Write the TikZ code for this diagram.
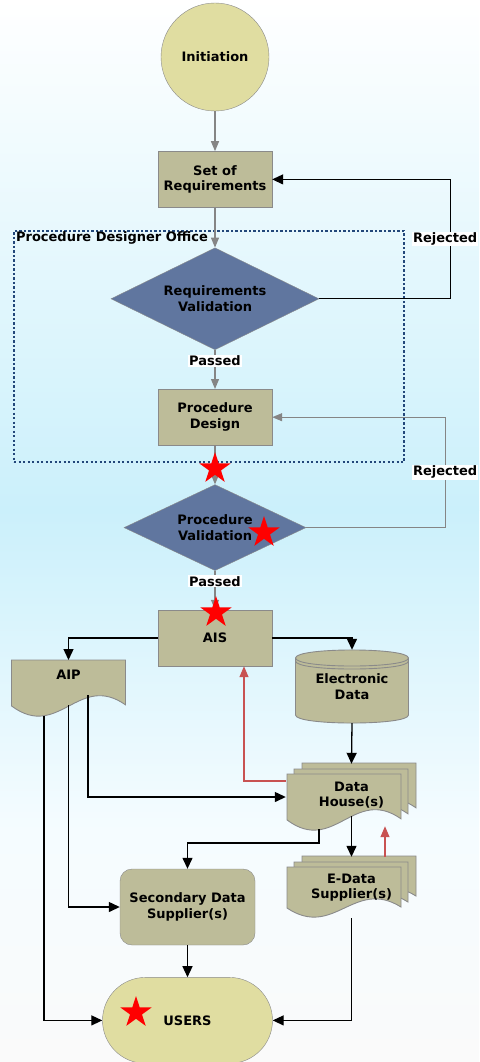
\documentclass[tikz,border=0pt]{standalone}
\usepackage{fontspec}
\setmainfont{DejaVu Sans}
\usepackage{tikz}
\usetikzlibrary{positioning}
\usetikzlibrary{shapes.geometric}
\usetikzlibrary{arrows.meta}
\usetikzlibrary{calc}

\definecolor{bgmid}{HTML}{CBF0FB}
\definecolor{bglow}{HTML}{F5FCFF}
\definecolor{bgend}{HTML}{FAFAFA}
\definecolor{termkhaki}{HTML}{E0DDA1}
\definecolor{boxolive}{HTML}{BDBC99}
\definecolor{diamslate}{HTML}{60769F}
\definecolor{edgegray}{HTML}{8A8A8A}
\definecolor{linegray}{HTML}{858585}
\definecolor{linered}{HTML}{C85252}
\definecolor{officeblue}{HTML}{22477A}

\newcommand{\dfont}{\fontsize{13}{15.5}\selectfont\bfseries}
% one page with a wavy lower edge: centre x, top y, height
\newcommand{\wavepage}[3]{%
  \filldraw[page] (#1-57,#2) -- (#1+57,#2) -- (#1+57,#2+0.80*#3)
    .. controls (#1+10,#2+0.214*#3) and (#1-10,#2+1.446*#3) .. (#1-57,#2+0.82*#3) -- cycle;}
\newcommand{\pagestack}[3]{%
  \wavepage{#1+15}{#2-11}{#3}\wavepage{#1+7}{#2-5}{#3}\wavepage{#1}{#2}{#3}}

\tikzset{%
  proc/.style = {rectangle,draw=edgegray,fill=boxolive,minimum width=114pt,
        minimum height=56pt,align=center,font=\dfont},
  term/.style = {draw=edgegray,fill=termkhaki,align=center,font=\dfont},
  dec/.style = {diamond,draw=edgegray,fill=diamslate,aspect=2,inner sep=2pt,
        align=center,font=\dfont},
  page/.style = {fill=boxolive,draw=edgegray,line width=0.9pt},
  txt/.style = {align=center,font=\dfont,inner sep=0pt},
  lbl/.style = {fill=white,font=\dfont,inner sep=1pt},
  office/.style = {draw=officeblue,line width=2.2pt,dash pattern=on 2.2pt off 2.3pt},
  redstar/.style = {star,star points=5,star point ratio=2.618,minimum size=33pt,
        inner sep=0pt,fill=red},
  grayarrow/.style = {-{Triangle[length=10pt,width=8pt]},draw=linegray,line width=1.2pt},
  blackarrow/.style = {-{Triangle[length=11pt,width=10pt]},draw=black,line width=1.3pt},
  redarrow/.style = {-{Triangle[length=11pt,width=9pt]},draw=linered,line width=1.3pt}
}

\begin{document}
\begin{tikzpicture}[x=1pt,y=-1pt]
  \useasboundingbox (0,0) rectangle (479,1062);
  % background
  \shade[top color=white,bottom color=bgmid] (0,0) rectangle (479,510.5);
  \shade[top color=bgmid,bottom color=bglow] (0,510) rectangle (479,830.5);
  \shade[top color=bglow,bottom color=bgend] (0,830) rectangle (479,1062);

  % validation chain
  \node[term,circle,minimum size=108pt] (init) at (215,57) {Initiation};
  \node[proc] (setreq) [below=40pt of init] {Set of\\Requirements};
  \node[dec,minimum width=208pt,minimum height=102pt] (reqval) [below=40pt of setreq] {Requirements\\Validation};
  \node[proc] (procdes) [below=39pt of reqval] {Procedure\\Design};
  \node[dec,minimum width=182pt,minimum height=86pt] (procval) [below=39pt of procdes] {Procedure\\Validation};
  \node[proc] (ais) [below=39pt of procval] {AIS};

  \node[office,minimum width=390pt,minimum height=231pt,inner sep=0pt] (office) at (209,346.5) {};
  \node[txt,anchor=north west] (officetitle) at ($(office.north west)+(3,2)$) {Procedure Designer Office};

  \draw[grayarrow] (init) -- (setreq);
  \draw[grayarrow] (setreq) -- (reqval);
  \draw[grayarrow] (reqval) -- node[lbl,pos=0.27] {Passed} (procdes);
  \draw[grayarrow] (procdes) -- (procval);
  \draw[grayarrow] (procval) -- node[lbl,pos=0.27] {Passed} (ais);
  \draw[blackarrow] (reqval.east) -- ++(131,0) |- node[lbl,pos=0.25,xshift=-5pt] {Rejected} (setreq.east);
  \draw[grayarrow] (procval.east) -- ++(139,0) |- node[lbl,pos=0.25] {Rejected} (procdes.east);

  % publication side
  \wavepage{68.5}{660}{56}
  \node[txt,minimum width=113pt,minimum height=30pt,anchor=north] (aip) at (68.5,660) {AIP};
  \filldraw[page] (295.5,658) -- (295.5,715) .. controls (295.5,725.7) and (408.5,725.7) .. (408.5,715)
    -- (408.5,658) .. controls (408.5,647.3) and (295.5,647.3) .. (295.5,658) -- cycle;
  \draw[page,fill=none] (295.5,658) .. controls (295.5,668.7) and (408.5,668.7) .. (408.5,658);
  \draw[page,fill=none] (295.5,661) .. controls (295.5,671.7) and (408.5,671.7) .. (408.5,661);
  \node[txt,minimum width=113pt,minimum height=73pt] (edata) at (352,686.5) {Electronic\\Data};
  \pagestack{344}{774}{56}
  \node[txt,minimum width=131pt,minimum height=62pt] (dh) at (351.5,795) {Data\\House(s)};
  \pagestack{344}{867}{50}
  \node[txt,minimum width=131pt,minimum height=61pt] (edsup) at (351.5,887.5) {E-Data\\Supplier(s)};
  \node[proc,rounded corners=12pt,minimum width=135pt,minimum height=76pt] (secdata) at (187.5,907) {Secondary Data\\Supplier(s)};
  \node[term,rounded corners=43pt,minimum width=170pt,minimum height=86pt] (users) [below=32pt of secdata] {USERS};

  \coordinate (aipout1) at (44,716);
  \coordinate (aipout2) at (68.5,705);
  \coordinate (aipout3) at (88,695);
  \coordinate (dhout1) at (351.5,816);
  \coordinate (dhout2) at (319,829);

  \draw[blackarrow] (ais.west) -| (aip.north);
  \draw[blackarrow] (ais.east) -| (edata.north);
  \draw[blackarrow] (edata.south) -- (dh.north);
  \draw[redarrow] ([yshift=14pt]dh.west) -| ([xshift=29pt]ais.south);
  \draw[blackarrow] (aipout3) |- ([yshift=-2pt]dh.west);
  \draw[blackarrow] (aipout2) |- (secdata.west);
  \draw[blackarrow] (aipout1) |- (users.west);
  \draw[blackarrow] (dhout2) -- ++(0,14) -| (secdata.north);
  \draw[blackarrow] (dhout1) -- (edsup.north);
  \draw[redarrow] ([xshift=33.5pt]edsup.north) -- ([xshift=33.5pt]dh.south);
  \draw[blackarrow] (secdata) -- (users);
  \draw[blackarrow] (edsup.south) |- (users.east);

  % marks
  \node[redstar] (star1) at (215,468.5) {};
  \node[redstar] (star2) at (264,532.5) {};
  \node[redstar] (star3) at (216,612.5) {};
  \node[redstar] (star4) at (136,1012.5) {};
\end{tikzpicture}
\end{document}
